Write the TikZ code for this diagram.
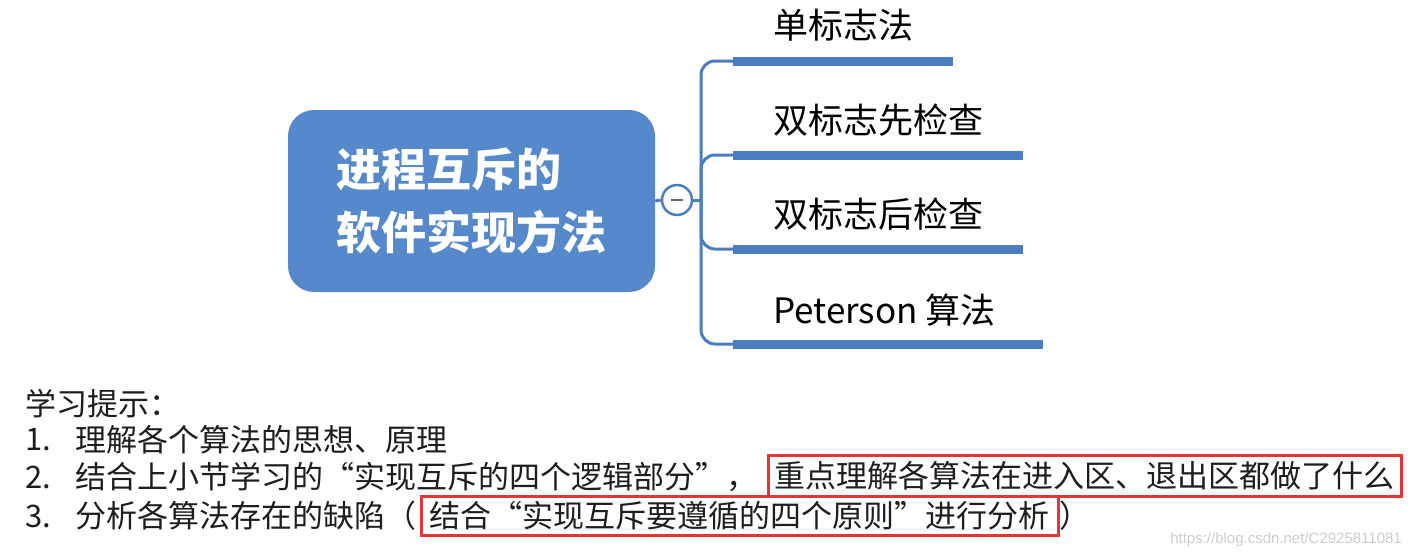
\documentclass[tikz,border=0pt]{standalone}
\usepackage{fontspec}
\setmainfont{Noto Sans CJK SC}
\newfontfamily\cjk{Noto Sans CJK SC}
\newfontfamily\wmfont{Liberation Sans}
\definecolor{boxblue}{RGB}{86,137,203}
\definecolor{barblue}{RGB}{74,126,193}
\definecolor{hlred}{RGB}{232,52,52}
\definecolor{txtgray}{RGB}{30,30,30}
\begin{document}
\begin{tikzpicture}[x=1pt,y=-1pt,
  central/.style={fill=boxblue, rounded corners=26pt, minimum width=367pt, minimum height=182pt,
    text=white, align=left, font=\cjk\bfseries\fontsize{45}{63}\selectfont, inner sep=0pt},
  bar/.style={fill=barblue, minimum height=9pt, inner sep=0pt, anchor=west},
  conn/.style={draw=barblue, line width=3pt},
  lbl/.style={anchor=west, inner sep=0pt, text=black, font=\cjk\fontsize{35}{35}\selectfont},
  tip/.style={anchor=west, inner sep=0pt, text=txtgray, font=\cjk\fontsize{31}{31}\selectfont},
  hl/.style={draw=hlred, line width=2.5pt, anchor=west, inner xsep=3pt, inner ysep=5pt,
    text=txtgray, font=\cjk\fontsize{31}{31}\selectfont}
]
\useasboundingbox (0,0) rectangle (1408,557);

% central topic
\node[central] (root) at (471.5,201) {进程互斥的\\软件实现方法};

% collapse circle
\node[circle, draw=barblue, line width=2.5pt, fill=white, minimum size=30pt, inner sep=0pt] (circ) at (677,200) {};
\draw[gray!80!black, line width=2.5pt] ([xshift=-6pt]circ.center) -- ([xshift=6pt]circ.center);
\draw[conn] (root.east) -- (circ.west);

% bars
\node[bar, minimum width=220pt] (b1) at (733,61) {};
\node[bar, minimum width=290pt] (b2) at (733,155) {};
\node[bar, minimum width=290pt] (b3) at (733,249) {};
\node[bar, minimum width=310pt] (b4) at (733,344) {};

% connectors
\coordinate (j) at (701,200);
\draw[conn] (circ.east) -- (j);
\draw[conn, rounded corners=14pt] (j) |- (b1.west);
\draw[conn, rounded corners=14pt] (j) |- (b2.west);
\draw[conn, rounded corners=14pt] (j) |- (b3.west);
\draw[conn, rounded corners=14pt] (j) |- (b4.west);

% labels
\node[lbl] (l1) at (773,25) {单标志法};
\node[lbl] (l2) at (773,120) {双标志先检查};
\node[lbl] (l3) at (773,214) {双标志后检查};
\node[lbl] (l4) at (773,310) {Peterson 算法};

% study tips
\node[tip] (h) at (25,404) {学习提示：};
\node[tip] (n1) at (25,440) {1.};
\node[tip] (t1) at (75,440) {理解各个算法的思想、原理};
\node[tip] (n2) at (25,477) {2.};
\node[tip] (t2) at (75,477) {结合上小节学习的“实现互斥的四个逻辑部分”，};
\node[hl, minimum width=633pt, minimum height=41pt] (r2) at (767,476) {重点理解各算法在进入区、退出区都做了什么};
\node[tip] (n3) at (25,516) {3.};
\node[tip] (t3) at (75,516) {分析各算法存在的缺陷（};
\node[hl, minimum width=637pt, minimum height=35pt] (r3) at (420,516) {结合“实现互斥要遵循的四个原则”进行分析};
\node[tip] (t3b) at (1059,516) {）};

% watermark
\node[anchor=east, inner sep=0pt, text=gray!40, font=\wmfont\fontsize{15}{15}\selectfont] (wm) at (1402,540) {https://blog.csdn.net/C2925811081};
\end{tikzpicture}
\end{document}
